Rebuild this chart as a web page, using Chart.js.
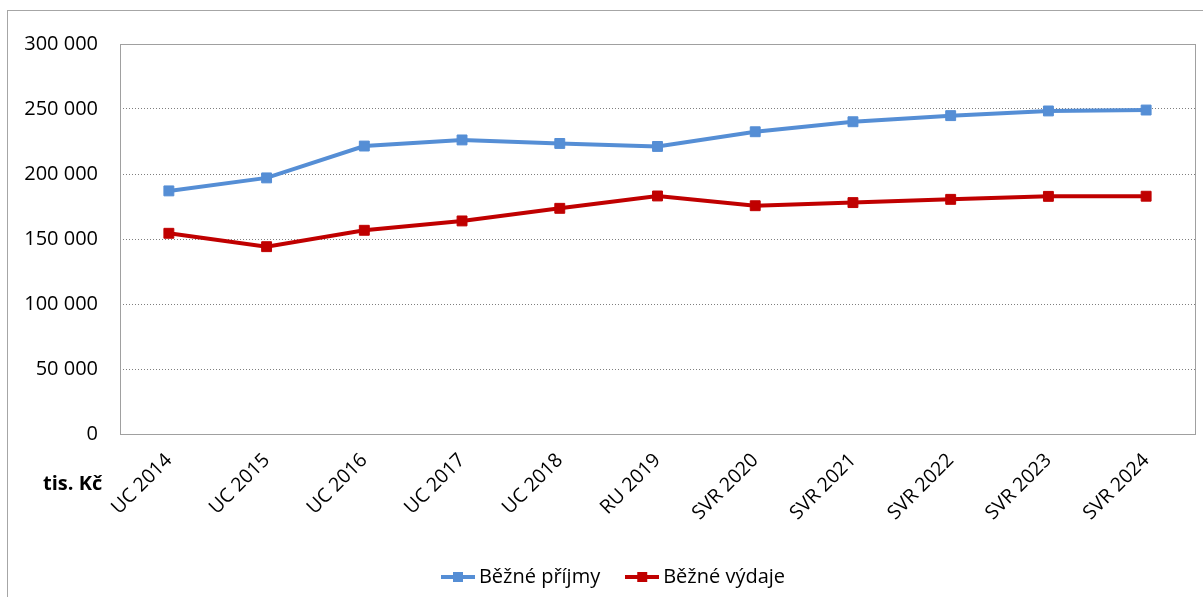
<!DOCTYPE html>
<html>
<head>
<meta charset="utf-8">
<script src="https://cdn.jsdelivr.net/npm/chart.js@4"></script>
<style>
  body { margin: 0; background: #fff; }
  #wrap { position: relative; width: 1203px; height: 597px; overflow: hidden; }
  #frame { position: absolute; left: 7px; top: 10px; width: 1300px; height: 700px; border: 1px solid #a6a6a6; }
  #unit { position: absolute; left: 43px; top: 469px; font: bold 20px "Open Sans"; color: #000; }
  canvas { position: absolute; left: 0; top: 0; }
</style>
</head>
<body>
<div id="wrap">
  <div id="frame"></div>
  <canvas id="chart" width="1203" height="597"></canvas>
  <div id="unit">tis. Kč</div>
</div>
<script>
// data (tis. Kč)
const categories = ['UC 2014', 'UC 2015', 'UC 2016', 'UC 2017', 'UC 2018', 'RU 2019', 'SVR 2020', 'SVR 2021', 'SVR 2022', 'SVR 2023', 'SVR 2024'];
const prijmy = [187000, 197000, 221500, 226200, 223500, 221200, 232500, 240200, 244900, 248500, 249200];
const vydaje = [154400, 144100, 156700, 163900, 173600, 183100, 175600, 178000, 180500, 182800, 182900];
const yTicks = [0, 50000, 100000, 150000, 200000, 250000, 300000];

const blue = '#558ed5';
const red = '#c00000';

// little line+square picture for the legend
function legendIcon(color) {
  const c = document.createElement('canvas');
  c.width = 34;
  c.height = 10;
  const g = c.getContext('2d');
  g.fillStyle = color;
  g.fillRect(0, 3, 34, 4);
  g.fillRect(12, 0, 10, 10);
  return c;
}

// plot area border
const plotBorder = {
  id: 'plotBorder',
  beforeDatasetsDraw(chart) {
    const a = chart.chartArea;
    const ctx = chart.ctx;
    ctx.save();
    ctx.strokeStyle = '#a0a0a0';
    ctx.lineWidth = 1;
    ctx.strokeRect(Math.round(a.left) + 0.5, Math.round(a.top) + 0.5, Math.round(a.right - a.left), Math.round(a.bottom - a.top));
    ctx.restore();
  }
};

Chart.defaults.color = '#000';
Chart.defaults.font.family = '"Open Sans"';

new Chart(document.getElementById('chart'), {
  type: 'line',
  data: {
    labels: categories,
    datasets: [
      {
        label: 'Běžné příjmy',
        data: prijmy,
        borderColor: blue,
        backgroundColor: blue,
        borderWidth: 4,
        pointStyle: 'rect',
        pointRadius: 7,
        pointBorderWidth: 1,
        tension: 0
      },
      {
        label: 'Běžné výdaje',
        data: vydaje,
        borderColor: red,
        backgroundColor: red,
        borderWidth: 4,
        pointStyle: 'rect',
        pointRadius: 7,
        pointBorderWidth: 1,
        tension: 0
      }
    ]
  },
  options: {
    responsive: false,
    animation: false,
    layout: { padding: { left: 22, top: 44, right: -7, bottom: 0 } },
    scales: {
      x: {
        offset: true,
        grid: { display: false, drawTicks: false },
        border: { display: false },
        ticks: { minRotation: 45, maxRotation: 45, padding: 15, font: { size: 19.5 } },
        afterFit: (s) => { s.height = 102; }
      },
      y: {
        min: 0,
        max: 300000,
        afterBuildTicks: (s) => { s.ticks = yTicks.map(v => ({ value: v })); },
        grid: { color: '#7f7f7f', lineWidth: 1, drawTicks: false },
        border: { display: false, dash: [1, 2] },
        ticks: {
          padding: 22,
          font: { size: 20 },
          callback: (v) => String(v).replace(/\B(?=(\d{3})+(?!\d))/g, ' ')
        },
        afterFit: (s) => { s.width = 98; }
      },
      // empty axis that only keeps the strip right of the plot free
      yRight: {
        position: 'right',
        grid: { display: false, drawTicks: false },
        border: { display: false },
        ticks: { display: false },
        afterFit: (s) => { s.width = 15; }
      }
    },
    plugins: {
      tooltip: { enabled: false },
      legend: {
        position: 'bottom',
        labels: {
          usePointStyle: true,
          pointStyleWidth: 22,
          padding: 31,
          font: { size: 20 },
          generateLabels: (chart) => chart.data.datasets.map((d, i) => ({
            text: d.label,
            pointStyle: legendIcon(d.borderColor),
            fillStyle: d.borderColor,
            strokeStyle: d.borderColor,
            lineWidth: 0,
            datasetIndex: i
          }))
        }
      }
    }
  },
  plugins: [plotBorder]
});
</script>
</body>
</html>
